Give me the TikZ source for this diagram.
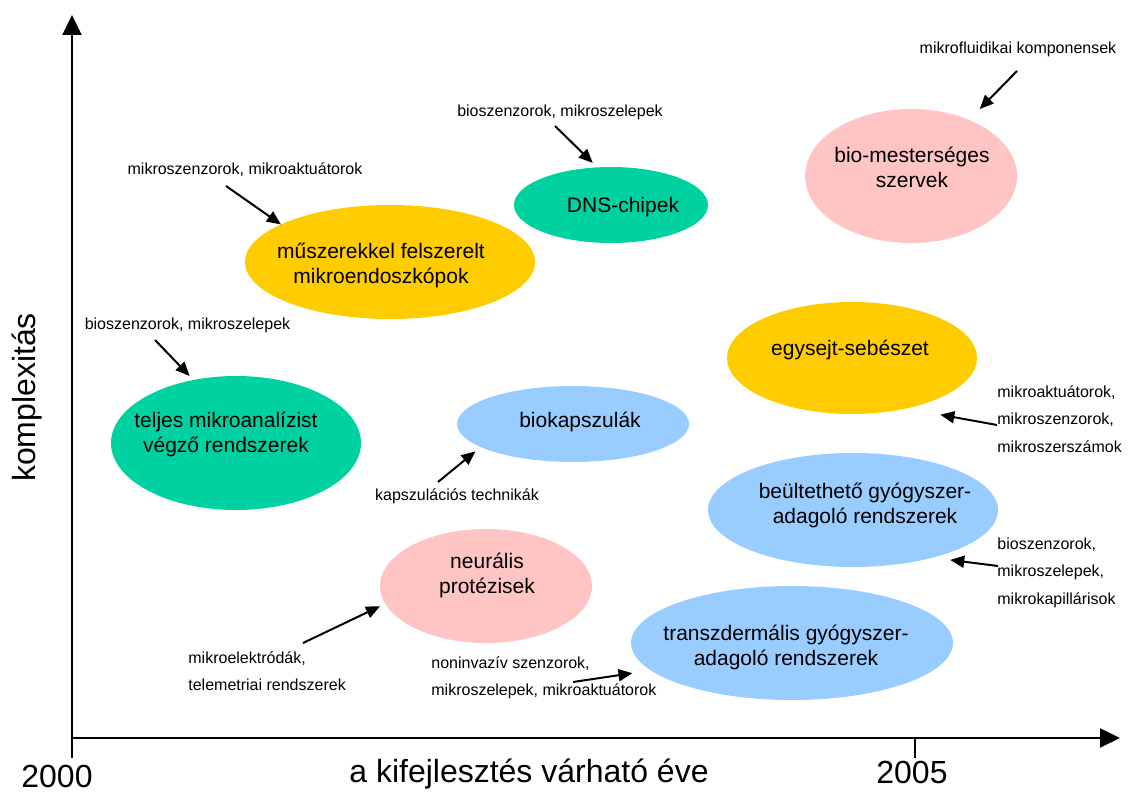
\documentclass[tikz,border=0pt]{standalone}
\usepackage{fontspec}
\setmainfont{Liberation Sans}
\usetikzlibrary{arrows.meta,shapes.geometric}
\definecolor{blobyellow}{RGB}{255,204,0}
\definecolor{blobgreen}{RGB}{0,209,160}
\definecolor{blobpink}{RGB}{255,196,196}
\definecolor{blobblue}{RGB}{153,204,255}

\begin{document}
\begin{tikzpicture}[x=0.5pt, y=-0.5pt,
    blob/.style={ellipse, inner sep=0pt, outer sep=0pt},
    bigtext/.style={align=center, inner sep=0pt, font=\fontsize{10.5}{12.5}\selectfont},
    smalltext/.style={align=left, inner sep=0pt, font=\fontsize{8}{13.75}\selectfont},
    axistext/.style={inner sep=0pt, font=\fontsize{16}{19}\selectfont},
    axisline/.style={line width=1pt, -{Triangle[length=10pt,width=9.5pt]}},
    pointer/.style={line width=1pt, -{Triangle[length=7pt,width=6pt]}}]
    \useasboundingbox (0,0) rectangle (1131,802);

    % axes
    \coordinate (ybot) at (72,758);
    \coordinate (ytop) at (72,15);
    \coordinate (xorig) at (72,738);
    \coordinate (xend) at (1120,738);
    \draw[axisline] (ybot) -- (ytop);
    \draw[axisline] (xorig) -- (xend);
    \coordinate (tick2005) at (915,738);
    \draw[line width=1pt] (tick2005) -- ++(0,20);

    \path (57,787) node[axistext, anchor=base] (y2000) {2000};
    \path (912,783) node[axistext, anchor=base] (y2005) {2005};
    \path (529,782) node[axistext, anchor=base] (xlabel) {a kifejlesztés várható éve};
    \path (35,397.5) node[axistext, anchor=base, rotate=90] (ylabel) {komplexitás};

    % application fields --- name/colour/centre/radii
    \foreach \name/\col/\cx/\cy/\rx/\ry in {
        musz/blobyellow/390/262/145/57,
        dns/blobgreen/611/205/97/38,
        bio/blobpink/911/176/106/67,
        teljes/blobgreen/236/443/125/67,
        biok/blobblue/573/424/116/38,
        egy/blobyellow/852/358/125/56,
        beul/blobblue/853/510/145/57,
        neur/blobpink/486/586/106/57,
        trans/blobblue/792/643/161/57}
    \node[blob, fill=\col, minimum width=\rx pt, minimum height=\ry pt] (\name) at (\cx,\cy) {};

    \node[bigtext] (muszlbl) at (381,265.5) {műszerekkel felszerelt\\mikroendoszkópok};
    \node[bigtext] (dnslbl) at (623,207) {DNS-chipek};
    \node[bigtext] (biolbl) at (912,167) {bio-mesterséges\\szervek};
    \node[bigtext] (teljeslbl) at (226,434.5) {teljes mikroanalízist\\végző rendszerek};
    \node[bigtext] (bioklbl) at (580,422) {biokapszulák};
    \node[bigtext] (egylbl) at (850,350) {egysejt-sebészet};
    \node[bigtext] (beullbl) at (865,505.5) {beültethető gyógyszer-\\adagoló rendszerek};
    \node[bigtext] (neurlbl) at (487,575) {neurális\\protézisek};
    \node[bigtext] (translbl) at (786,647.5) {transzdermális gyógyszer-\\adagoló rendszerek};

    % technologies
    \path (245,174.5) node[smalltext, anchor=base] (tech1) {mikroszenzorok, mikroaktuátorok};
    \path (560,117) node[smalltext, anchor=base] (tech2) {bioszenzorok, mikroszelepek};
    \path (1018,54) node[smalltext, anchor=base] (tech3) {mikrofluidikai komponensek};
    \path (187.5,330) node[smalltext, anchor=base] (tech4) {bioszenzorok, mikroszelepek};
    \path (457,501) node[smalltext, anchor=base] (tech5) {kapszulációs technikák};
    \path (188,671) node[smalltext, anchor=west] (tech6) {mikroelektródák,\\telemetriai rendszerek};
    \path (431,678) node[smalltext, anchor=west] (tech7) {noninvazív szenzorok,\\mikroszelepek, mikroaktuátorok};
    \path (997,419) node[smalltext, anchor=west] (tech8) {mikroaktuátorok,\\mikroszenzorok,\\mikroszerszámok};
    \path (997,572.5) node[smalltext, anchor=west] (tech9) {bioszenzorok,\\mikroszelepek,\\mikrokapillárisok};

    \coordinate (t1) at (226,186);
    \coordinate (t2) at (555,126);
    \coordinate (t3) at (1017,71);
    \coordinate (t4) at (155,340);
    \coordinate (t5) at (438,482);
    \coordinate (t6) at (303,643);
    \coordinate (t7) at (573,682);
    \coordinate (t8) at (997,425);
    \coordinate (t9) at (998,566);
    \draw[pointer] (t1) -- (musz.161);
    \draw[pointer, shorten >=3.2pt] (t2) -- (dns.110);
    \draw[pointer, shorten >=7.6pt] (t3) -- (bio.44);
    \draw[pointer, shorten >=2.8pt] (t4) -- (teljes.124);
    \draw[pointer, shorten >=3.4pt] (t5) -- (biok.194);
    \draw[pointer, shorten >=2.9pt] (t6) -- (neur.190);
    \draw[pointer, shorten >=9.3pt] (t7) -- (trans.191);
    \draw[pointer, shorten >=17.4pt] (t8) -- (egy.317);
    \draw[pointer, shorten >=9pt] (t9) -- (beul.329);
\end{tikzpicture}
\end{document}
